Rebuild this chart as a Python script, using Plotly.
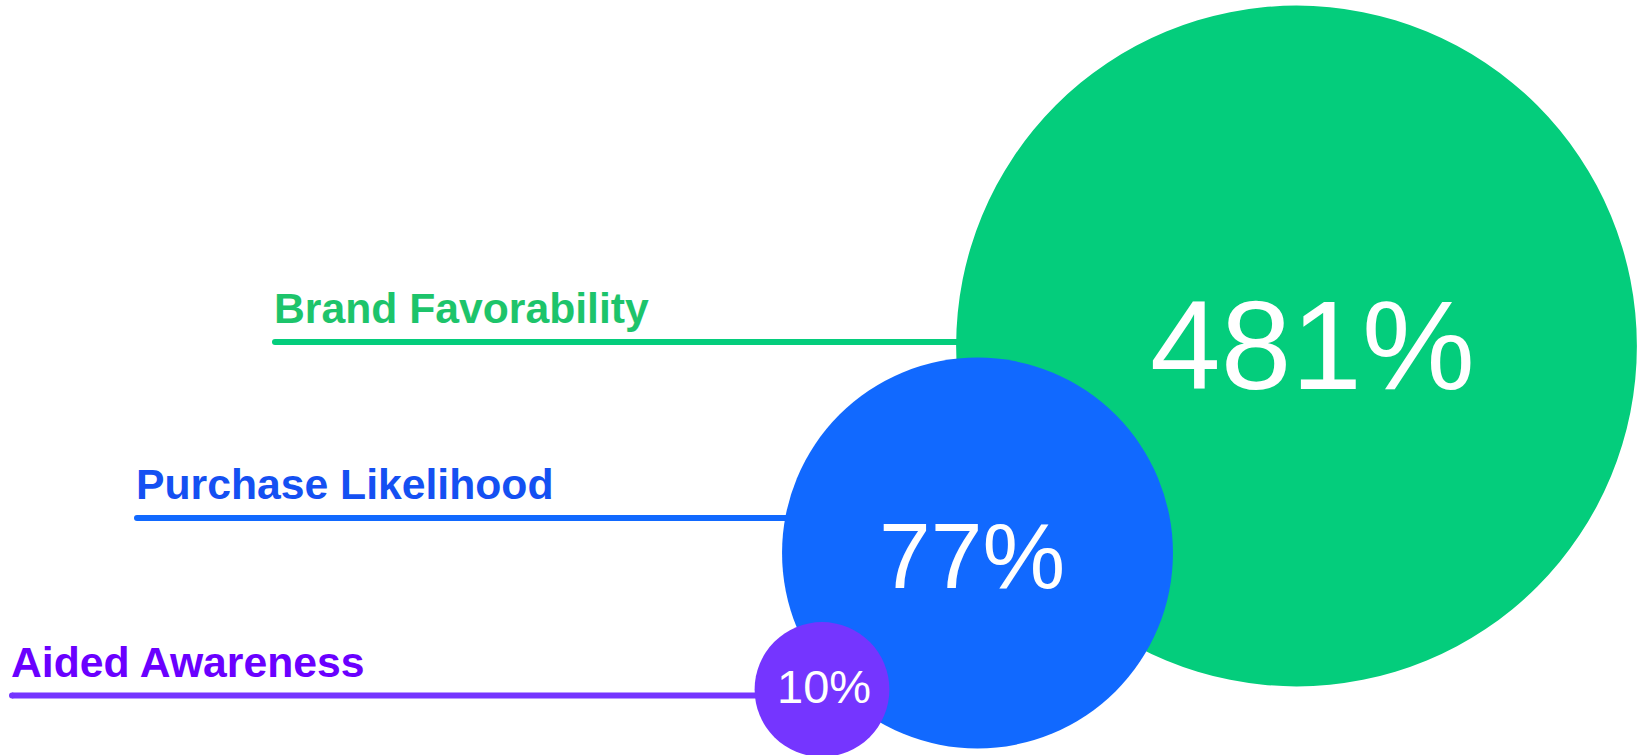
import plotly.graph_objects as go

# Metric names, lift values and colours
metrics = ["Brand Favorability", "Purchase Likelihood", "Aided Awareness"]
lift_pct = [481, 77, 10]
bubble_colors = ["#04CD7C", "#1169FF", "#7535FF"]
label_colors = ["#1DC46B", "#1450F2", "#6A00FF"]

W, H = 1639, 755

# Layout of the infographic (pixel units: axes map 1:1 onto the canvas)
bubble_centers = [(1296.5, 346), (977.5, 553), (822, 689.5)]
leader_y = [342, 518, 695.5]
leader_x0 = [275, 137, 12]
value_font = [127, 93, 47]
value_shift = [(16, 1.5), (-6, -2.5), (1.5, 3.5)]
LABEL_FONT = 42.7


def bubble_radius(v):
    # compressed scale so small lifts remain readable next to large ones
    return 350.0 * v ** 0.12 - 394.0


fig = go.Figure()

# leader lines (drawn first so bubbles cover their right ends)
for i in range(len(metrics)):
    cx, _ = bubble_centers[i]
    fig.add_trace(go.Scatter(
        x=[leader_x0[i], cx], y=[leader_y[i], leader_y[i]],
        mode="lines", line=dict(color=bubble_colors[i], width=6),
        hoverinfo="skip", showlegend=False))
    # rounded cap at the free end
    fig.add_trace(go.Scatter(
        x=[leader_x0[i]], y=[leader_y[i]], mode="markers",
        marker=dict(size=6, color=bubble_colors[i], line=dict(width=0)),
        hoverinfo="skip", showlegend=False))

# bubbles, largest first so smaller ones sit on top
for i, v in enumerate(lift_pct):
    cx, cy = bubble_centers[i]
    r = bubble_radius(v)
    fig.add_shape(type="circle", xref="x", yref="y",
                  x0=cx - r, x1=cx + r, y0=cy - r, y1=cy + r,
                  fillcolor=bubble_colors[i], line=dict(width=0), layer="above")

annotations = []
for i, v in enumerate(lift_pct):
    cx, cy = bubble_centers[i]
    dx, dy = value_shift[i]
    annotations.append(dict(
        x=cx, y=cy, xref="x", yref="y", text=f"{v}%", showarrow=False,
        xanchor="center", yanchor="middle", xshift=dx, yshift=dy,
        font=dict(family="Liberation Sans, Arial, sans-serif",
                  size=value_font[i], color="#FFFFFF")))
    # metric label sits just above its leader line
    annotations.append(dict(
        x=leader_x0[i] - 3, y=leader_y[i] - 19 - 0.3465 * LABEL_FONT,
        xref="x", yref="y", text=f"<b>{metrics[i]}</b>", showarrow=False,
        xanchor="left", yanchor="middle",
        font=dict(family="Liberation Sans, Arial, sans-serif",
                  size=LABEL_FONT, color=label_colors[i])))

fig.update_layout(
    width=W, height=H,
    margin=dict(l=0, r=0, t=0, b=0),
    paper_bgcolor="#FFFFFF", plot_bgcolor="#FFFFFF",
    xaxis=dict(range=[0, W], visible=False, fixedrange=True),
    yaxis=dict(range=[H, 0], visible=False, fixedrange=True),
    annotations=annotations,
    showlegend=False,
)

fig.write_html("out.html", config={"displayModeBar": False})
